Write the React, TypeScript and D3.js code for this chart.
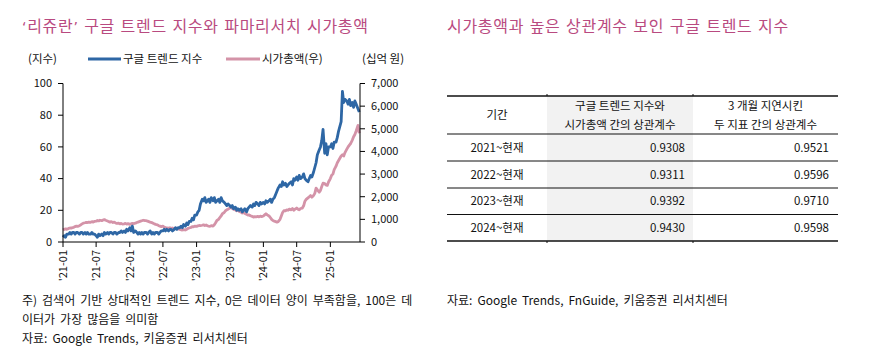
import React from "react";
import * as d3 from "d3";

// ---------- DATA ----------
const START_YEAR = 2021;
// weekly readings, grouped by month (Jan 2021 .. Jun 2025)
const googleTrend: number[][] = [
  [3, 4, 3, 5], [5, 6, 5, 6], [6, 5, 6, 6], [5, 6, 6, 5], [6, 5, 6, 5], [5, 6, 5, 5],
  [4, 3, 5, 4], [5, 4, 6, 5], [6, 5, 6, 6], [5, 6, 6, 5], [6, 6, 7, 6], [7, 6, 8, 7],
  [9, 7, 10, 6], [7, 6, 5, 6], [5, 6, 5, 6], [6, 5, 6, 7], [5, 6, 5, 6], [6, 5, 6, 7],
  [7, 8, 7, 8], [7, 8, 8, 7], [8, 9, 8, 9], [9, 10, 9, 11], [10, 12, 11, 13], [13, 15, 14, 17],
  [17, 19, 20, 24], [27, 26, 28, 25], [26, 27, 25, 28], [26, 28, 25, 26], [27, 25, 28, 26], [25, 24, 23, 24],
  [23, 22, 23, 21], [22, 20, 21, 20], [21, 19, 20, 21], [19, 21, 22, 23], [22, 24, 23, 25], [24, 23, 25, 24],
  [25, 24, 26, 25], [26, 27, 25, 27], [28, 30, 32, 34], [36, 35, 38, 36], [37, 35, 36, 37], [38, 36, 40, 39],
  [41, 39, 42, 40], [41, 43, 40, 39], [38, 40, 42, 41], [44, 47, 50, 55], [58, 60, 64, 71], [56, 62, 55, 60],
  [60, 62, 59, 63], [63, 66, 70, 73], [76, 95, 88, 90], [89, 87, 90, 86], [88, 85, 89, 87], [84, 82],
];
const marketCap: number[][] = [
  [530, 560, 580, 560], [600, 620, 610, 640], [650, 680, 700, 690], [720, 760, 800, 830], [850, 870, 860, 880], [870, 900, 880, 910],
  [920, 950, 930, 960], [940, 970, 990, 960], [930, 900, 880, 900], [860, 880, 840, 820], [830, 800, 820, 790], [800, 820, 790, 810],
  [780, 800, 820, 810], [830, 860, 880, 900], [920, 940, 960, 950], [940, 920, 900, 880], [860, 830, 800, 780], [760, 720, 700, 680],
  [700, 660, 640, 620], [610, 630, 600, 620], [590, 620, 600, 580], [560, 540, 530, 550], [530, 560, 600, 620], [640, 680, 670, 700],
  [690, 710, 730, 720], [740, 760, 730, 750], [720, 700, 690, 720], [700, 760, 850, 950], [1000, 1080, 1150, 1250], [1300, 1380, 1420, 1450],
  [1500, 1550, 1480, 1450], [1420, 1380, 1400, 1350], [1320, 1280, 1300, 1260], [1220, 1190, 1200, 1160], [1130, 1100, 1120, 1110], [1130, 1110, 1140, 1120],
  [1150, 1200, 1250, 1200], [1150, 1080, 1000, 950], [920, 900, 880, 900], [1000, 1150, 1300, 1380], [1380, 1420, 1400, 1450], [1420, 1480, 1400, 1450],
  [1500, 1450, 1420, 1480], [1500, 1600, 1800, 1880], [1950, 2000, 2050, 1980], [2050, 2150, 2380, 2300], [2200, 2280, 2450, 2600], [2580, 2520, 2500, 2650],
  [2800, 2950, 3000, 3200], [3350, 3500, 3600, 3700], [3800, 3850, 3800, 3950], [4100, 4200, 4280, 4350], [4500, 4650, 4750, 4900], [5150, 4800],
];
const xTickLabels = ["'21-01", "'21-07", "'22-01", "'22-07", "'23-01", "'23-07", "'24-01", "'24-07", "'25-01"];
const leftTicks = [0, 20, 40, 60, 80, 100];
const rightTicks = [0, 1000, 2000, 3000, 4000, 5000, 6000, 7000];

const tableHeader = ["기간", ["구글 트렌드 지수와", "시가총액 간의 상관계수"], ["3 개월 지연시킨", "두 지표 간의 상관계수"]];
const periods = ["2021~현재", "2022~현재", "2023~현재", "2024~현재"];
const corrTrend = ["0.9308", "0.9311", "0.9392", "0.9430"];
const corrLagged = ["0.9521", "0.9596", "0.9710", "0.9598"];

// ---------- HELPERS ----------
type Pt = { date: Date; v: number };
function toSeries(groups: number[][]): Pt[] {
  const out: Pt[] = [];
  groups.forEach((g, m) => {
    g.forEach((v, w) => {
      out.push({ date: new Date(START_YEAR, m, 1 + w * 7), v });
    });
  });
  return out;
}

const FONT = "'Noto Sans CJK KR', 'Noto Sans', sans-serif";
const QFONT = "'DejaVu Sans', sans-serif";
const BLUE = "#2e67a5";
const PINK = "#d493a8";
const TITLE = "#b94a80";

export default function App() {
  const trend = toSeries(googleTrend);
  const cap = toSeries(marketCap);

  const x = d3.scaleTime().domain([new Date(2021, 0, 1), new Date(2025, 5, 12)]).range([63, 360]);
  const yL = d3.scaleLinear().domain([0, 100]).range([242, 83.5]);
  const yR = d3.scaleLinear().domain([0, 7000]).range([242, 83.5]);

  const lineL = d3.line<Pt>().x((d) => x(d.date)).y((d) => yL(d.v));
  const lineR = d3.line<Pt>().x((d) => x(d.date)).y((d) => yR(d.v));

  const tickDates = xTickLabels.map((_, i) => new Date(2021, i * 6, 1));

  // table geometry
  const tx0 = 447, tx1 = 547, tx2 = 693, tx3 = 838;
  const rowLines = [96, 134, 161, 188, 214.5, 241];

  const titleStyle = { letterSpacing: "0.7px", wordSpacing: "1.3px" };
  const noteStyle = { wordSpacing: "2.3px" };

  return (
    <div style={{ position: "absolute", left: 0, top: 0 }}>
      <svg width={873} height={355} style={{ display: "block", fontFamily: FONT }}>
        <rect width={873} height={355} fill="#fff" />
        {/* titles */}
        <text x={22} y={32} fontSize={16} fill={TITLE} style={titleStyle}>
          <tspan fontFamily={QFONT} fontSize={14}>‘</tspan>리쥬란<tspan fontFamily={QFONT} fontSize={14}>’</tspan> 구글 트렌드 지수와 파마리서치 시가총액
        </text>
        <text x={447} y={32} fontSize={16} fill={TITLE} style={titleStyle}>시가총액과 높은 상관계수 보인 구글 트렌드 지수</text>

        {/* legend */}
        <text x={28} y={63} fontSize={11.5} fill="#111">(지수)</text>
        <line x1={88} x2={121} y1={59} y2={59} stroke={BLUE} strokeWidth={3} />
        <text x={123} y={63} fontSize={11.5} fill="#111">구글 트렌드 지수</text>
        <line x1={226} x2={260} y1={59} y2={59} stroke={PINK} strokeWidth={3} />
        <text x={262} y={63} fontSize={11.5} fill="#111">시가총액(우)</text>
        <text x={362} y={63} fontSize={11.5} fill="#111">(십억 원)</text>

        {/* series */}
        <path d={lineR(cap) || ""} fill="none" stroke={PINK} strokeWidth={2.8} strokeLinejoin="round" />
        <path d={lineL(trend) || ""} fill="none" stroke={BLUE} strokeWidth={2.8} strokeLinejoin="round" />

        {/* left axis */}
        <line x1={63} x2={63} y1={yL(100)} y2={242} stroke="#000" strokeWidth={1} />
        {leftTicks.map((t) => (
          <g key={"l" + t}>
            <line x1={58} x2={63} y1={yL(t)} y2={yL(t)} stroke="#000" />
            <text x={52} y={yL(t)} dy="0.35em" textAnchor="end" fontSize={11} fill="#111">{t}</text>
          </g>
        ))}
        {/* right axis */}
        <line x1={360} x2={360} y1={yR(7000)} y2={242} stroke="#000" strokeWidth={1} />
        {rightTicks.map((t) => (
          <g key={"r" + t}>
            <line x1={360} x2={365} y1={yR(t)} y2={yR(t)} stroke="#000" />
            <text x={371} y={yR(t)} dy="0.35em" textAnchor="start" fontSize={11} fill="#111">{d3.format(",")(t)}</text>
          </g>
        ))}
        {/* bottom axis */}
        <line x1={63} x2={360} y1={242} y2={242} stroke="#000" strokeWidth={1} />
        {tickDates.map((d, i) => (
          <g key={"x" + i}>
            <line x1={x(d)} x2={x(d)} y1={242} y2={247} stroke="#000" />
            <text
              transform={`translate(${x(d)},250) rotate(-90)`}
              dy="0.35em"
              textAnchor="end"
              fontSize={11}
              fill="#111"
            >
              {xTickLabels[i]}
            </text>
          </g>
        ))}

        {/* footnotes */}
        <text x={22} y={305} fontSize={12} fill="#111" style={noteStyle}>주) 검색어 기반 상대적인 트렌드 지수, 0은 데이터 양이 부족함을, 100은 데</text>
        <text x={22} y={324} fontSize={12} fill="#111" style={noteStyle}>이터가 가장 많음을 의미함</text>
        <text x={22} y={343} fontSize={12} fill="#111" style={noteStyle}>자료: Google Trends, 키움증권 리서치센터</text>
        <text x={447} y={305} fontSize={12} fill="#111" style={noteStyle}>자료: Google Trends, FnGuide, 키움증권 리서치센터</text>

        {/* table */}
        <rect x={tx1} y={96} width={tx2 - tx1} height={241 - 96} fill="#f2f2f2" />
        {rowLines.map((y, i) => (
          <line
            key={"rl" + i}
            x1={tx0}
            x2={tx3}
            y1={y}
            y2={y}
            stroke="#111"
            strokeWidth={i === 0 || i === rowLines.length - 1 ? 1.5 : 1}
          />
        ))}
        {[tx1, tx2].map((xx, i) => (
          <g key={"vt" + i}>
            <line x1={xx} x2={xx} y1={94} y2={96} stroke="#111" />
            <line x1={xx} x2={xx} y1={241} y2={243} stroke="#111" />
          </g>
        ))}
        <text x={(tx0 + tx1) / 2} y={115} dy="0.35em" textAnchor="middle" fontSize={11.5} fill="#111">{tableHeader[0] as string}</text>
        {(tableHeader[1] as string[]).map((s, i) => (
          <text key={"h1" + i} x={(tx1 + tx2) / 2} y={106 + i * 19} dy="0.35em" textAnchor="middle" fontSize={11.5} fill="#111">{s}</text>
        ))}
        {(tableHeader[2] as string[]).map((s, i) => (
          <text key={"h2" + i} x={(tx2 + tx3) / 2} y={106 + i * 19} dy="0.35em" textAnchor="middle" fontSize={11.5} fill="#111">{s}</text>
        ))}
        {periods.map((p, i) => {
          const cy = (rowLines[i + 1] + rowLines[i + 2]) / 2;
          return (
            <g key={"row" + i}>
              <text x={(tx0 + tx1) / 2} y={cy} dy="0.35em" textAnchor="middle" fontSize={11.5} fill="#111">{p}</text>
              <text x={685} y={cy} dy="0.35em" textAnchor="end" fontSize={11.5} fill="#111">{corrTrend[i]}</text>
              <text x={829} y={cy} dy="0.35em" textAnchor="end" fontSize={11.5} fill="#111">{corrLagged[i]}</text>
            </g>
          );
        })}
      </svg>
    </div>
  );
}
